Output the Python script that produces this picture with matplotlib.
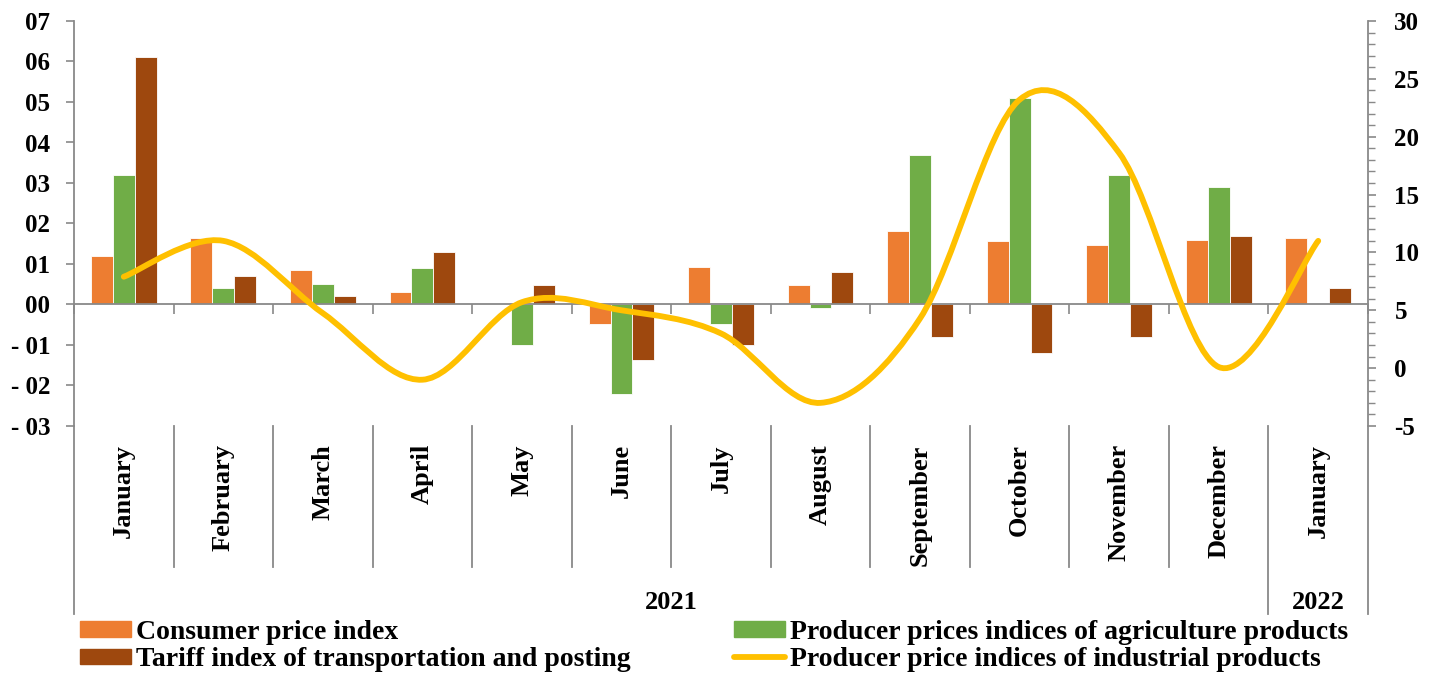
import numpy as np
import matplotlib
matplotlib.use("Agg")
import matplotlib.pyplot as plt
from matplotlib.patches import Patch
from matplotlib.lines import Line2D
from matplotlib.path import Path
from matplotlib.patches import PathPatch
from matplotlib.ticker import FuncFormatter, MultipleLocator

plt.rcParams['font.family'] = ['Liberation Serif', 'DejaVu Serif']
plt.rcParams['font.weight'] = 'bold'

# Data
months = ["January", "February", "March", "April", "May", "June", "July",
          "August", "September", "October", "November", "December", "January"]
years = ["2021", "2022"]
year_spans = [12, 1]
cpi = [1.2, 1.63, 0.85, 0.32, 0.0, -0.47, 0.92, 0.47, 1.82, 1.57, 1.48, 1.6, 1.65]
agri = [3.2, 0.4, 0.5, 0.9, -1.0, -2.2, -0.47, -0.08, 3.7, 5.1, 3.2, 2.9, 0.0]
tariff = [6.1, 0.7, 0.2, 1.3, 0.49, -1.38, -0.99, 0.8, -0.8, -1.19, -0.8, 1.7, 0.4]
industrial = [7.9, 11.0, 4.75, -1.0, 5.7, 5.0, 3.0, -3.0, 4.3, 23.2, 18.6, 0.1, 11.0]

c_cpi = "#ED7D31"
c_agri = "#70AD47"
c_tariff = "#9E480E"
c_ind = "#FFC000"
grey = "#898989"

fig = plt.figure(figsize=(14.34, 6.75), dpi=100)
ax = fig.add_axes([74 / 1434, 1 - 426 / 675, (1368 - 74) / 1434, (426 - 21) / 675])
ax2 = ax.twinx()

x = np.arange(len(months))
w = 0.22
ax.bar(x - w, cpi, w, color=c_cpi, edgecolor="white", linewidth=0.6, zorder=2)
ax.bar(x, agri, w, color=c_agri, edgecolor="white", linewidth=0.6, zorder=2)
ax.bar(x + w, tariff, w, color=c_tariff, edgecolor="white", linewidth=0.6, zorder=2)

ax.set_xlim(-0.5, len(months) - 0.5)
ax.set_ylim(-3, 7)
ax.yaxis.set_major_locator(MultipleLocator(1))
ax.yaxis.set_major_formatter(FuncFormatter(
    lambda v, p: f"{int(round(v)):02d}" if v >= 0 else f"- {int(round(abs(v))):02d}"))

# smoothed line (Catmull-Rom through the points, like Excel smoothing)
pts = np.column_stack([x, industrial]).astype(float)
ext = np.vstack([pts[0], pts, pts[-1]])
verts = [pts[0]]
codes = [Path.MOVETO]
for i in range(len(pts) - 1):
    p0, p1, p2, p3 = ext[i], ext[i + 1], ext[i + 2], ext[i + 3]
    verts += [p1 + (p2 - p0) / 6, p2 - (p3 - p1) / 6, p2]
    codes += [Path.CURVE4] * 3
ax2.add_patch(PathPatch(Path(verts, codes), facecolor="none", edgecolor=c_ind,
                        linewidth=4.2, capstyle="round", zorder=3))
ax2.set_ylim(-5, 30)
ax2.yaxis.set_major_locator(MultipleLocator(5))
ax2.yaxis.set_minor_locator(MultipleLocator(1))
ax2.yaxis.set_major_formatter(FuncFormatter(lambda v, p: f"{int(round(v))}"))

for a in (ax, ax2):
    a.spines["top"].set_visible(False)
    for s in ("left", "right", "bottom"):
        a.spines[s].set_color(grey)
        a.spines[s].set_linewidth(1.3)
    a.tick_params(axis="y", colors=grey, labelcolor="black", labelsize=18, width=1.2, length=6)
ax.tick_params(axis="y", pad=11)
ax2.tick_params(axis="y", pad=13)
ax2.tick_params(axis="y", which="minor", colors=grey, width=1.0, length=5)
ax2.spines["bottom"].set_visible(False)
ax.spines["bottom"].set_position(("data", 0))
ax.spines["right"].set_visible(False)
ax2.spines["left"].set_visible(False)

ax.set_xticks(np.arange(len(months) + 1) - 0.5)
ax.tick_params(axis="x", colors=grey, width=1.2, length=7, labelbottom=False)

# category labels and separators below the plot
tr = ax.get_xaxis_transform()
sep_kw = dict(color=grey, linewidth=1.3, transform=tr, clip_on=False)
for i, m in enumerate(months):
    ax.text(i, -0.045, m, transform=tr, rotation=90, ha="center", va="top",
            fontsize=19, fontweight="bold")
bounds = np.cumsum([0] + year_spans)
for b in range(len(months) + 1):
    outer = b in bounds
    ax.add_line(Line2D([b - 0.5, b - 0.5], [0, -0.465 if outer else -0.348], **sep_kw))
for j, yr in enumerate(years):
    ax.text((bounds[j] + bounds[j + 1] - 1) / 2, -0.435, yr, transform=tr,
            ha="center", va="center", fontsize=19, fontweight="bold")

handles = [Patch(color=c_cpi), Patch(color=c_tariff), Patch(color=c_agri),
           Line2D([], [], color=c_ind, linewidth=4.2, solid_capstyle="round")]
labels = ["Consumer price index", "Tariff index of transportation and posting",
          "Producer prices indices of agriculture products",
          "Producer price indices of industrial products"]
fig.legend(handles, labels, ncol=2, loc="upper left", bbox_to_anchor=(80 / 1434, 1 - 620 / 675),
           frameon=False, handlelength=1.85, handleheight=0.47,
           handletextpad=0.18, columnspacing=3.7, labelspacing=0.08, borderpad=0,
           borderaxespad=0, prop={"weight": "bold", "size": 20})

fig.savefig("out.png", dpi=100)
